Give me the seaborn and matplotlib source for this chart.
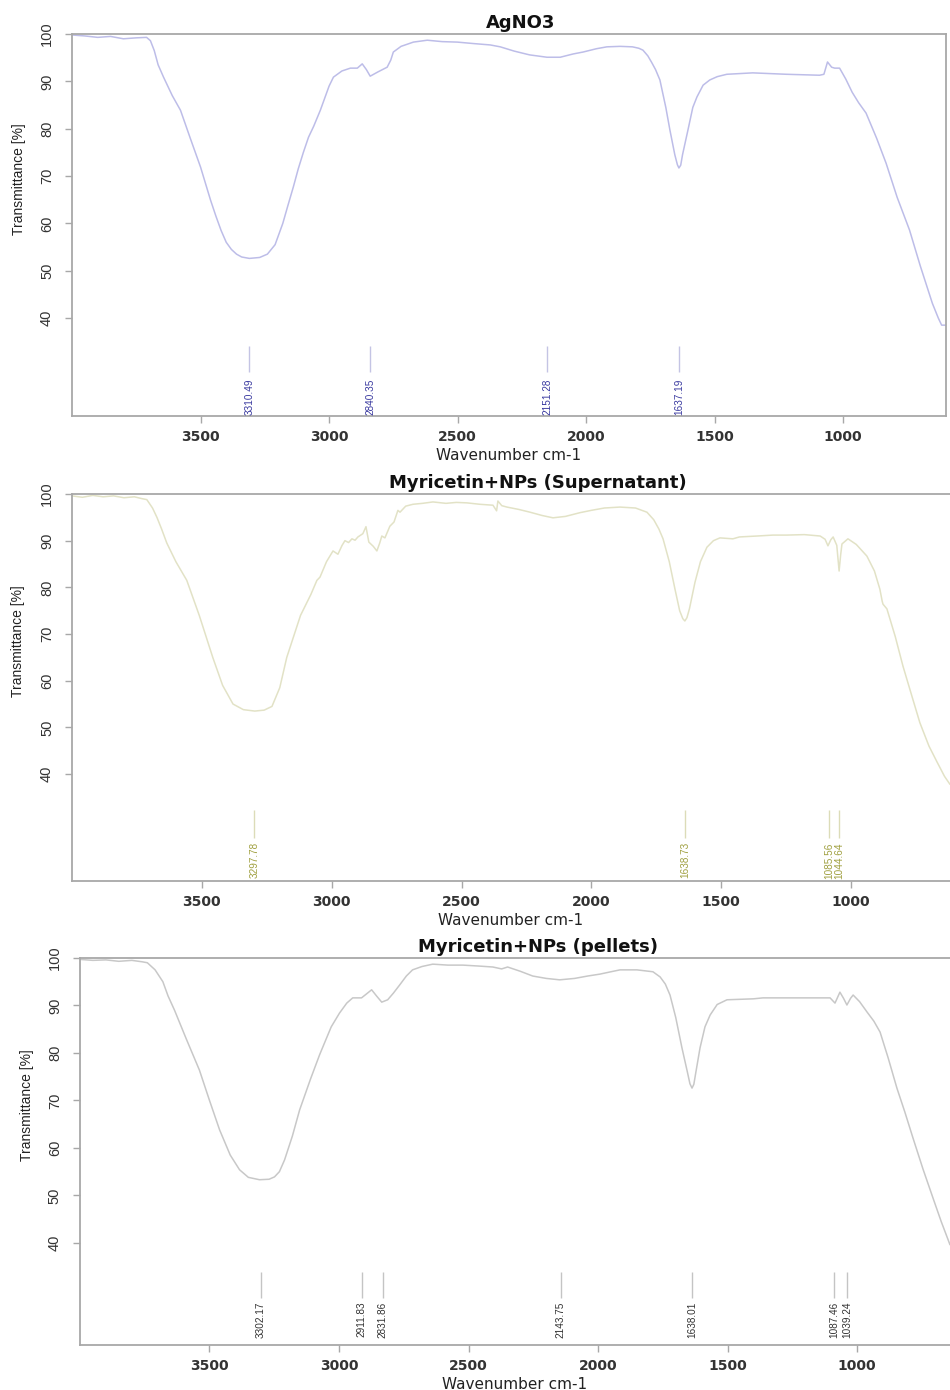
import matplotlib
matplotlib.use('Agg')
import matplotlib.pyplot as plt
import seaborn as sns

# AgNO3 spectrum (wavenumber cm-1, transmittance %)
agno3_wn = [4000, 3950, 3900, 3850, 3800, 3750, 3710, 3695, 3680, 3665, 3644, 3610, 3578, 3540,
            3500, 3461, 3440, 3420, 3400, 3380, 3360, 3340, 3310, 3270, 3240, 3210, 3180, 3160,
            3139, 3120, 3100, 3080, 3060, 3034, 3010, 3000, 2983, 2950, 2917, 2890, 2871, 2855,
            2840, 2810, 2774, 2760, 2750, 2720, 2672, 2618, 2560, 2501, 2440, 2373, 2334, 2280,
            2220, 2152, 2101, 2050, 2012, 1960, 1919, 1868, 1820, 1795, 1779, 1760, 1745, 1730,
            1713, 1690, 1674, 1655, 1645, 1639, 1632, 1625, 1604, 1585, 1569, 1545, 1519, 1490,
            1453, 1352, 1220, 1092, 1075, 1061, 1045, 1033, 1014, 990, 965, 940, 911, 870, 833,
            790, 742, 700, 653, 630, 617, 600]
agno3_t = [99.8, 99.6, 99.3, 99.5, 99.0, 99.2, 99.3, 98.6, 96.5, 93.5, 90.9, 87.0, 83.9, 78.0,
           71.9, 64.9, 61.5, 58.5, 56.0, 54.5, 53.5, 52.9, 52.6, 52.8, 53.5, 55.5, 60.0, 63.8,
           67.7, 71.5, 75.0, 78.2, 80.5, 83.9, 87.5, 89.0, 90.9, 92.2, 92.8, 92.8, 93.7, 92.5,
           91.1, 92.0, 93.0, 94.5, 96.2, 97.4, 98.3, 98.7, 98.4, 98.3, 98.0, 97.7, 97.3, 96.4,
           95.6, 95.1, 95.1, 95.8, 96.2, 96.9, 97.3, 97.4, 97.3, 97.0, 96.6, 95.4, 94.0, 92.5,
           90.3, 84.5, 79.7, 74.5, 72.4, 71.7, 72.3, 74.5, 79.7, 84.5, 86.7, 89.2, 90.3, 91.0,
           91.5, 91.8, 91.5, 91.3, 91.5, 94.1, 93.0, 92.8, 92.8, 90.5, 87.7, 85.5, 83.3, 78.0, 72.7,
           65.5, 58.6, 51.0, 43.1, 40.0, 38.5, 38.5]
agno3_peaks = [3310.49, 2840.35, 2151.28, 1637.19]

# Myricetin+NPs (Supernatant)
super_wn = [4000, 3960, 3920, 3880, 3840, 3800, 3760, 3730, 3712, 3690, 3673, 3655, 3635, 3600,
            3558, 3510, 3458, 3420, 3380, 3340, 3296, 3260, 3230, 3200, 3173, 3120, 3080, 3057,
            3045, 3020, 2995, 2976, 2960, 2949, 2935, 2922, 2910, 2899, 2880, 2868, 2857, 2840,
            2826, 2815, 2807, 2795, 2776, 2760, 2745, 2737, 2715, 2687, 2650, 2610, 2560, 2520,
            2479, 2430, 2379, 2365, 2360, 2345, 2325, 2280, 2236, 2190, 2148, 2100, 2044, 2000,
            1950, 1890, 1830, 1786, 1760, 1740, 1724, 1700, 1678, 1660, 1648, 1640, 1632, 1622,
            1601, 1580, 1555, 1530, 1505, 1455, 1430, 1362, 1300, 1247, 1180, 1119, 1100, 1089,
            1078, 1069, 1055, 1046, 1040, 1035, 1012, 980, 939, 910, 889, 880, 877, 862, 830, 800,
            770, 735, 700, 669, 640, 619]
super_t = [99.6, 99.3, 99.7, 99.4, 99.6, 99.2, 99.4, 99.0, 98.8, 97.0, 95.0, 92.5, 89.5, 85.5,
           81.5, 74.0, 65.0, 59.0, 55.0, 53.8, 53.5, 53.7, 54.5, 58.5, 65.0, 74.0, 78.5, 81.5,
           82.2, 85.5, 87.8, 87.1, 89.0, 90.0, 89.6, 90.4, 90.1, 90.8, 91.5, 93.0, 89.7, 88.8,
           87.8, 89.5, 91.0, 90.6, 93.1, 94.0, 96.5, 96.1, 97.4, 97.8, 98.0, 98.3, 98.0, 98.2,
           98.1, 97.8, 97.6, 96.4, 98.5, 97.5, 97.2, 96.7, 96.1, 95.4, 94.9, 95.2, 96.0, 96.5,
           97.0, 97.2, 97.0, 96.1, 94.5, 92.5, 90.4, 85.5, 79.6, 75.0, 73.3, 72.8, 73.5, 75.5,
           81.1, 85.5, 88.6, 90.0, 90.6, 90.4, 90.8, 91.0, 91.2, 91.2, 91.3, 91.0, 90.3, 88.9,
           90.2, 90.8, 89.0, 83.5, 87.0, 89.3, 90.4, 89.2, 86.7, 83.5, 79.6, 77.0, 76.4, 75.4, 69.5, 63.1,
           57.5, 51.0, 46.0, 42.6, 39.5, 37.8]
super_peaks = [3297.78, 1638.73, 1085.56, 1044.64]

# Myricetin+NPs (pellets)
pellet_wn = [4000, 3950, 3900, 3850, 3800, 3760, 3740, 3710, 3680, 3660, 3635, 3590, 3539, 3500,
             3461, 3420, 3384, 3350, 3307, 3270, 3249, 3230, 3210, 3180, 3152, 3110, 3075, 3056,
             3030, 2998, 2970, 2947, 2913, 2890, 2874, 2855, 2835, 2812, 2790, 2766, 2740, 2716,
             2680, 2638, 2580, 2522, 2460, 2406, 2372, 2349, 2300, 2252, 2200, 2148, 2090, 2040,
             1993, 1950, 1915, 1850, 1788, 1760, 1740, 1722, 1700, 1676, 1655, 1645, 1637, 1630,
             1622, 1606, 1587, 1567, 1540, 1502, 1450, 1400, 1363, 1250, 1143, 1104, 1085, 1066,
             1052, 1039, 1025, 1015, 990, 961, 935, 911, 880, 846, 815, 784, 745, 707, 675, 641]
pellet_t = [99.7, 99.5, 99.6, 99.3, 99.5, 99.2, 99.0, 97.5, 95.0, 92.0, 89.0, 83.0, 76.4, 70.0,
            63.8, 58.5, 55.4, 53.8, 53.3, 53.4, 53.9, 55.0, 57.5, 62.5, 68.0, 74.5, 79.6, 82.1,
            85.5, 88.4, 90.5, 91.6, 91.6, 92.6, 93.3, 92.0, 90.7, 91.2, 92.6, 94.3, 96.2, 97.5,
            98.2, 98.7, 98.5, 98.5, 98.3, 98.1, 97.7, 98.1, 97.2, 96.2, 95.7, 95.4, 95.7, 96.2,
            96.6, 97.1, 97.5, 97.5, 97.1, 96.0, 94.5, 92.2, 87.5, 81.1, 76.0, 73.5, 72.6, 73.4,
            76.0, 81.1, 85.5, 88.0, 90.2, 91.2, 91.3, 91.4, 91.6, 91.6, 91.6, 91.6, 90.5, 92.8,
            91.5, 90.1, 91.5, 92.2, 90.8, 88.6, 86.7, 84.4, 79.0, 72.6, 67.5, 62.1, 55.5, 49.5, 44.5, 39.6]
pellet_peaks = [3302.17, 2911.83, 2831.86, 2143.75, 1638.01, 1087.46, 1039.24]

sns.set_style('ticks')
plt.rcParams['font.family'] = ['DejaVu Sans']
NARROW = ['Liberation Sans', 'DejaVu Sans']
FRAME = '#a8a8a8'


def draw_panel(fig, rect, wn, t, peaks, title, title_x, colors, xlim, ylim, mark, right_spine):
    line_c, mark_c, text_c = colors
    ax = fig.add_axes(rect)
    sns.lineplot(x=wn, y=t, ax=ax, color=line_c, lw=1.1, errorbar=None)

    # peak markers with their wavenumber labels
    ax.vlines(peaks, mark[1], mark[2], color=mark_c, lw=1.0)
    for p in peaks:
        ax.text(p, mark[0], '{:.2f}'.format(p), rotation=90, ha='center', va='top',
                fontsize=7.2, color=text_c, family=NARROW)

    ax.set_xlim(*xlim)
    ax.set_ylim(*ylim)
    ax.set_xticks([1000, 1500, 2000, 2500, 3000, 3500])
    ax.set_yticks([40, 50, 60, 70, 80, 90, 100])
    ax.tick_params(axis='both', direction='out', length=5, width=1, color=FRAME)
    ax.tick_params(axis='x', pad=5)
    ax.tick_params(axis='y', pad=8)
    for lab in ax.get_xticklabels():
        lab.set_fontsize(10)
        lab.set_fontweight('bold')
        lab.set_color('#333333')
    for lab in ax.get_yticklabels():
        lab.set_rotation(90)
        lab.set_va('center')
        lab.set_family(NARROW)
        lab.set_fontsize(10.5)
        lab.set_color('#333333')

    for side, sp in ax.spines.items():
        sp.set_color(FRAME)
        sp.set_linewidth(1.3)
    ax.spines['right'].set_visible(right_spine)

    ax.set_xlabel('Wavenumber cm-1', fontsize=11, color='#222222', labelpad=3)
    ax.set_ylabel('Transmittance [%]', fontsize=10, color='#222222', family=NARROW)
    ax.yaxis.set_label_coords(-0.053, 0.62)
    ax.set_title(title, x=title_x, fontsize=13, fontweight='bold', color='#111111', pad=4)
    return ax


fig = plt.figure(figsize=(9.5, 13.9), dpi=100)

draw_panel(fig, [0.0758, 0.7007, 0.92, 0.2748], agno3_wn, agno3_t, agno3_peaks, 'AgNO3', 0.513,
           ('#bdbde8', '#c4c4e4', '#3a3aa0'), (4000, 600), (19.3, 100), (27.3, 28.6, 34.1), True)
draw_panel(fig, [0.0758, 0.3662, 0.9242, 0.2784], super_wn, super_t, super_peaks,
           'Myricetin+NPs (Supernatant)', 0.53,
           ('#e2e2c6', '#dcdcb8', '#a0a040'), (4000, 619), (17.1, 100), (25.4, 26.3, 32.3), False)
draw_panel(fig, [0.0842, 0.0324, 0.9158, 0.2784], pellet_wn, pellet_t, pellet_peaks,
           'Myricetin+NPs (pellets)', 0.526,
           ('#c8c8c8', '#c4c4c4', '#333333'), (4000, 641), (18.5, 100), (27.6, 28.4, 33.9), False)

fig.savefig('out.png', dpi=100)
